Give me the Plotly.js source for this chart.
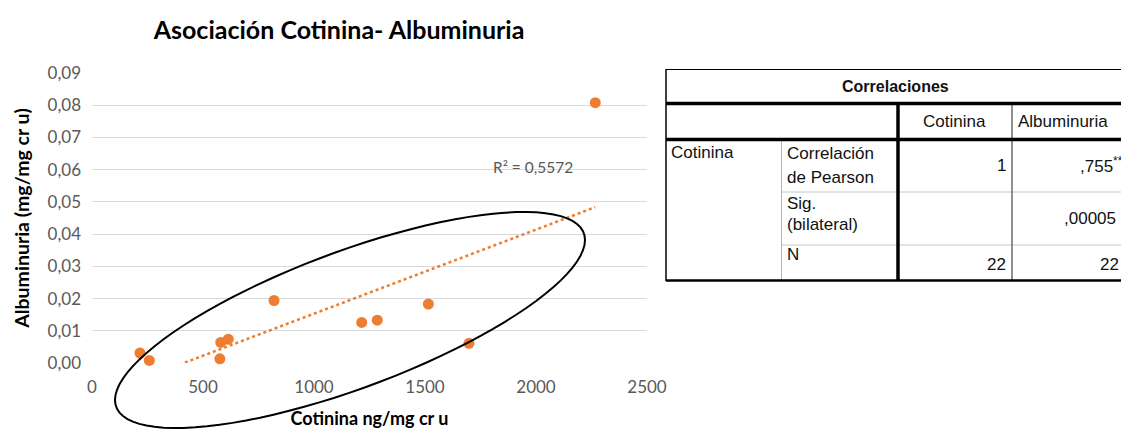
<!DOCTYPE html>
<html>
<head>
<meta charset="utf-8">
<script src="https://cdn.plot.ly/plotly-3.0.1.min.js"></script>
<style>
  html, body { margin: 0; padding: 0; background: #fff; }
  #chart { width: 1121px; height: 430px; }
</style>
</head>
<body>
<div id="chart"></div>
<script>
// ---- Data ----
const cotinina = [216, 258, 576, 580, 614, 820, 1215, 1285, 1515, 1698, 2267];
const albuminuria = [0.0031, 0.0008, 0.0013, 0.0064, 0.0074, 0.0194, 0.0126, 0.0133, 0.0183, 0.0061, 0.0808];
const r2Label = 'R² = 0,5572';
const chartTitle = 'Asociación Cotinina- Albuminuria';
const xTitle = 'Cotinina ng/mg cr u';
const yTitle = 'Albuminuria (mg/mg cr u)';

// Correlation table texts
const tableTitle = 'Correlaciones';
const colHeaders = ['Cotinina', 'Albuminuria'];
const rowGroup = 'Cotinina';
const rowLabels = [['Correlación', 'de Pearson'], ['Sig.', '(bilateral)'], ['N']];
const colCotinina = ['1', '', '22'];
const colAlbuminuria = [',755<sup>**</sup>', ',00005', '22'];

// ---- Linear trend (least squares from the data) ----
const n = cotinina.length;
const mx = cotinina.reduce((a, b) => a + b, 0) / n;
const my = albuminuria.reduce((a, b) => a + b, 0) / n;
let sxy = 0, sxx = 0;
for (let i = 0; i < n; i++) {
  sxy += (cotinina[i] - mx) * (albuminuria[i] - my);
  sxx += (cotinina[i] - mx) ** 2;
}
const slope = sxy / sxx;
const intercept = my - slope * mx;
const trendX = [Math.min(...cotinina), Math.max(...cotinina)];
const trendY = trendX.map(x => intercept + slope * x);

// ---- Geometry helpers (pixel -> paper) ----
const W = 1121, H = 430;
const M = { l: 92, r: 474, t: 73, b: 67 };
const PW = W - M.l - M.r, PH = H - M.t - M.b;
const px = x => (x - M.l) / PW;
const py = y => (H - M.b - y) / PH;

// Hand-drawn ellipse (annotation shape)
function ellipsePath(cx, cy, ax, bxy, by) {
  let d = '';
  for (let k = 0; k <= 96; k++) {
    const t = 2 * Math.PI * k / 96;
    const X = cx + ax * Math.cos(t);
    const Y = cy + bxy * Math.cos(t) + by * Math.sin(t);
    d += (k === 0 ? 'M ' : ' L ') + px(X).toFixed(5) + ',' + py(Y).toFixed(5);
  }
  return d + ' Z';
}

const shapes = [];
shapes.push({ type: 'path', xref: 'paper', yref: 'paper', path: ellipsePath(350, 320, 235, -80, 72.6),
  line: { color: '#000', width: 2 }, layer: 'above' });

function hline(y, x0, x1, color, width) {
  shapes.push({ type: 'line', xref: 'paper', yref: 'paper', x0: px(x0), x1: px(x1), y0: py(y), y1: py(y),
    line: { color: color, width: width } });
}
function vline(x, y0, y1, color, width) {
  shapes.push({ type: 'line', xref: 'paper', yref: 'paper', x0: px(x), x1: px(x), y0: py(y0), y1: py(y1),
    line: { color: color, width: width } });
}
const TR = 1130;
// table lines
hline(69.5, 666, TR, '#000', 1.2);
hline(192, 781.5, TR, '#c8c8c8', 1);
hline(245, 781.5, TR, '#c8c8c8', 1);
vline(781.5, 139, 281, '#b4b4b4', 1);
vline(1012, 103, 281, '#555', 1.3);
vline(666, 69, 281, '#000', 1.5);
hline(103.5, 666, TR, '#000', 3.5);
hline(139.5, 666, TR, '#000', 3.5);
vline(898, 103, 281, '#000', 3.5);
hline(280.5, 666, TR, '#000', 2.5);

const annotations = [];
const tf = { family: 'Liberation Sans, Arial, sans-serif', size: 17, color: '#111' };
function txt(text, x, y, xanchor, extra) {
  annotations.push(Object.assign({ text: text, xref: 'paper', yref: 'paper', x: px(x), y: py(y),
    xanchor: xanchor, yanchor: 'middle', showarrow: false, font: tf }, extra || {}));
}
txt('<b>' + tableTitle + '</b>', 895, 86, 'center', { font: Object.assign({}, tf, { size: 16 }) });
txt(colHeaders[0], 954, 121, 'center');
txt(colHeaders[1], 1016, 121, 'left');
txt(rowGroup, 669, 152, 'left');
const rowY = [[153, 177], [203, 224], [254]];
rowLabels.forEach((lines, i) => lines.forEach((s, j) => txt(s, 785, rowY[i][j], 'left')));
const valY = [165, 218, 264];
colCotinina.forEach((s, i) => { if (s) txt(s, 1008, valY[i], 'right'); });
colAlbuminuria.forEach((s, i) => txt(s, [1078, 1062, 1098][i], valY[i], 'left'));

// R² label
annotations.push({ text: r2Label, xref: 'x', yref: 'y', x: 1986, y: 0.0607, showarrow: false,
  xanchor: 'center', yanchor: 'middle', font: { family: 'Lato, sans-serif', size: 15.5, color: '#595959' } });

const data = [
  { x: trendX, y: trendY, type: 'scatter', mode: 'lines', hoverinfo: 'skip',
    line: { color: '#ED7D31', width: 2.5, dash: 'dot' } },
  { x: cotinina, y: albuminuria, type: 'scatter', mode: 'markers', cliponaxis: false,
    marker: { color: '#ED7D31', size: 11 } }
];

const layout = {
  width: W, height: H,
  margin: M,
  paper_bgcolor: '#fff', plot_bgcolor: '#fff',
  showlegend: false,
  separators: ',.',
  font: { family: 'Lato, sans-serif', color: '#595959' },
  title: { text: '<b>' + chartTitle + '</b>', xref: 'paper', yref: 'container',
    x: (339 - M.l) / PW, xanchor: 'center', y: 1 - 30 / H, yanchor: 'middle',
    font: { family: 'Lato, sans-serif', size: 25, color: '#000' } },
  xaxis: { range: [0, 2500], dtick: 500, tick0: 0, showgrid: false, zeroline: false, showline: false,
    ticks: '', ticklabelstandoff: 12, tickfont: { size: 17, color: '#595959' },
    title: { text: '<b>' + xTitle + '</b>', standoff: 16, font: { size: 18, color: '#000' } } },
  yaxis: { range: [0, 0.09], dtick: 0.01, tick0: 0, tickformat: '.2f', showgrid: true, gridcolor: '#d9d9d9',
    gridwidth: 1, zeroline: false, showline: false, ticks: '', ticklabelstandoff: 10,
    tickfont: { size: 17, color: '#595959' },
    title: { text: '<b>' + yTitle + '</b>', standoff: 12, font: { size: 19.5, color: '#000' } } },
  shapes: shapes,
  annotations: annotations
};

Plotly.newPlot('chart', data, layout, { displayModeBar: false, staticPlot: true });
</script>
</body>
</html>
